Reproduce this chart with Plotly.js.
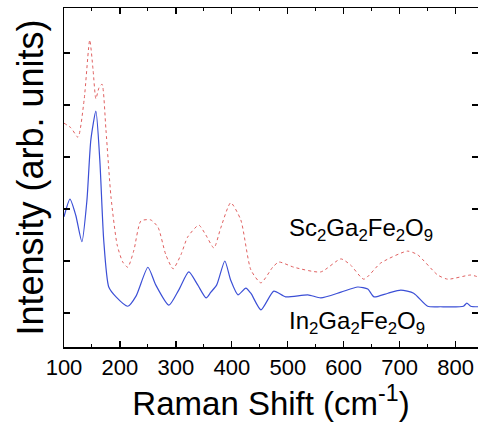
<!DOCTYPE html>
<html>
<head>
<meta charset="utf-8">
<script src="https://cdn.plot.ly/plotly-3.0.1.min.js"></script>
<style>html,body{margin:0;padding:0;background:#fff;}#chart{width:478px;height:426px;}</style>
</head>
<body>
<div id="chart"></div>
<script>
// Raman shift (cm^-1) and intensities (arb. units, offset)
const inShift = [100,110.7,121,132,141,148,157,164,171,180,193,214,229,250,264,287.5,305,323,339,354,362.5,373,387.5,398,411,425,434,452,475,496,536,559,595,625,643,654,679,702,725,750,773,814,820,827,841];
const inIntensity = [2.85,3.19,2.88,2.37,3.17,4.33,4.88,3.94,2.40,1.50,1.31,1.13,1.33,1.88,1.54,1.15,1.44,1.79,1.54,1.29,1.40,1.54,2.00,1.63,1.35,1.48,1.38,1.06,1.42,1.31,1.35,1.29,1.40,1.50,1.46,1.31,1.38,1.44,1.38,1.13,1.12,1.13,1.19,1.13,1.12];

const scShift = [100,112.5,125,136,146,152,157,162.5,168,175,184,195,205,214,225,237.5,255,268,282,295,309,321,341,353.5,368,380,398,416,434,452,473,484,511,559,595,612.5,636,666,714,732,768,786,827,841];
const scIntensity = [4.65,4.56,4.38,5.10,6.25,5.67,5.12,5.33,5.40,4.52,3.23,2.31,1.98,1.88,2.21,2.77,2.79,2.65,2.12,1.85,2.12,2.46,2.69,2.50,2.25,2.63,3.12,2.79,1.83,1.58,1.88,1.98,1.88,1.79,2.04,1.92,1.65,1.96,2.19,2.12,1.73,1.65,1.73,1.69];

const xTicks = [100,200,300,400,500,600,700,800];
const yTicks = [1,2,3,4,5,6];
const labels = ["Sc<sub>2</sub>Ga<sub>2</sub>Fe<sub>2</sub>O<sub>9</sub>", "In<sub>2</sub>Ga<sub>2</sub>Fe<sub>2</sub>O<sub>9</sub>"];

const font = 'Arial, "Liberation Sans", sans-serif';

const traces = [
  {x: scShift, y: scIntensity, type: 'scatter', mode: 'lines', line: {color: '#e06060', width: 1, dash: 'dot', shape: 'spline', smoothing: 0.6}, hoverinfo: 'skip'},
  {x: inShift, y: inIntensity, type: 'scatter', mode: 'lines', line: {color: '#3b4fd6', width: 1.2, shape: 'spline', smoothing: 0.6}, hoverinfo: 'skip'}
];

const layout = {
  width: 478, height: 426,
  margin: {l: 64, r: 0, t: 8, b: 79},
  paper_bgcolor: '#fff', plot_bgcolor: '#fff',
  showlegend: false,
  font: {family: font, color: '#000'},
  xaxis: {
    range: [100, 840], tickvals: xTicks, ticktext: xTicks.map(String),
    ticks: 'inside', ticklen: 6, tickwidth: 1.3, tickcolor: '#000',
    showline: true, linecolor: '#000', linewidth: 1.5, mirror: 'allticks',
    showgrid: false, zeroline: false,
    tickfont: {size: 22, family: font, color: '#000'},
    minor: {dtick: 50, tick0: 50, ticks: 'inside', ticklen: 3, tickwidth: 1, tickcolor: '#000', showgrid: false},
    title: {text: 'Raman Shift (cm<sup>-1</sup>)', font: {size: 33, family: font, color: '#000'}, standoff: 4}
  },
  yaxis: {
    range: [0.346, 6.865], tickvals: yTicks, showticklabels: false,
    ticks: 'inside', ticklen: 6, tickwidth: 1.3, tickcolor: '#000',
    showline: true, linecolor: '#000', linewidth: 1.5, mirror: 'allticks',
    showgrid: false, zeroline: false,
    title: {text: 'Intensity (arb. units)', font: {size: 36, family: font, color: '#000'}, standoff: 8}
  },
  annotations: [
    {x: 630, y: 2.6, xref: 'x', yref: 'y', text: labels[0], showarrow: false, font: {size: 24, family: font, color: '#000'}, xanchor: 'center', yanchor: 'middle'},
    {x: 623, y: 0.81, xref: 'x', yref: 'y', text: labels[1], showarrow: false, font: {size: 24, family: font, color: '#000'}, xanchor: 'center', yanchor: 'middle'}
  ]
};

Plotly.newPlot('chart', traces, layout, {displayModeBar: false, staticPlot: true});
</script>
</body>
</html>
